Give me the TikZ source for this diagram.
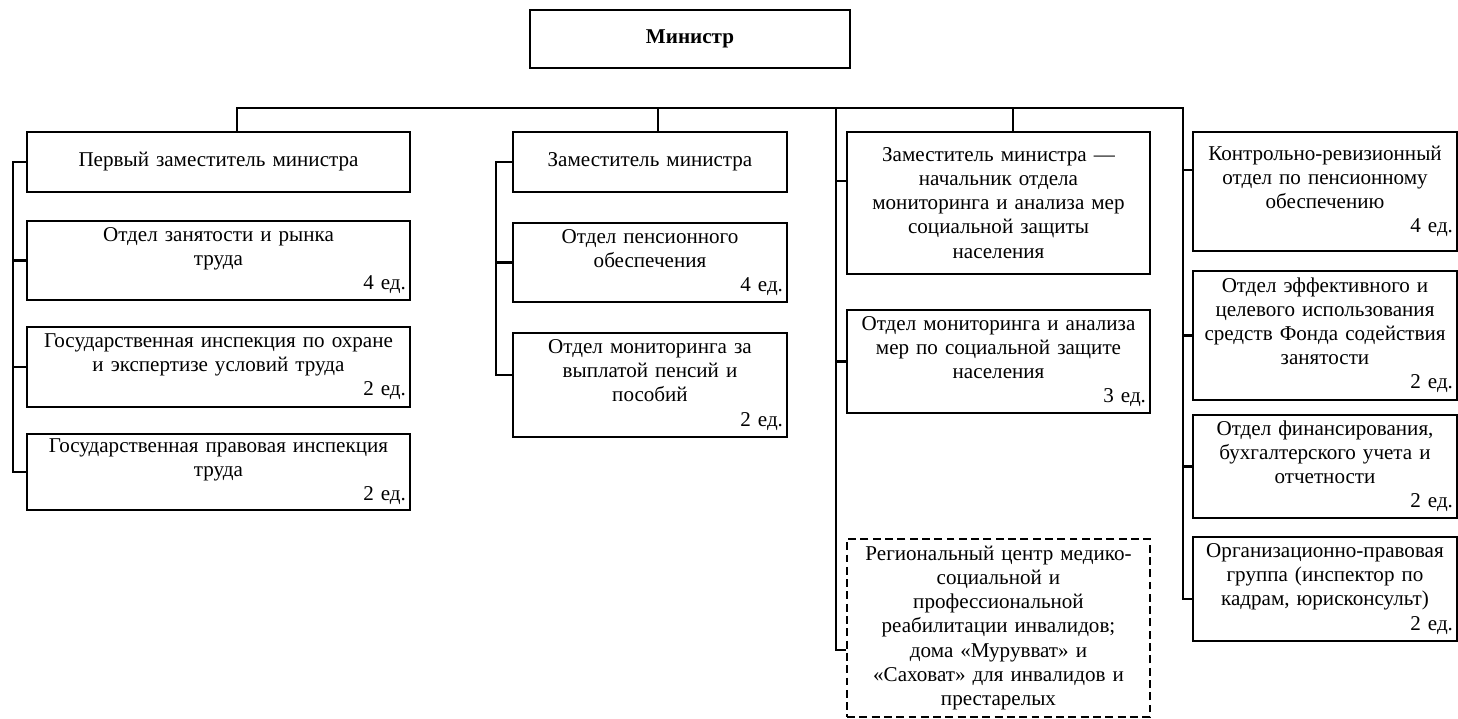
\documentclass[tikz,border=0pt]{standalone}
\usepackage{fontspec}
\setmainfont{Liberation Serif}
\newcommand{\boxfont}{\fontsize{12}{13.7}\selectfont}
\newcommand{\ed}[1]{\\\hspace*{\fill}#1~ед.}

\begin{document}
\begin{tikzpicture}[x=0.02cm, y=-0.02cm, font=\boxfont,
  box/.style={draw, rectangle, align=center, inner sep=0.08cm, line width=1.15pt},
  colA/.style={box, text width=7.5cm, minimum width=7.66cm},
  colB/.style={box, text width=5.32cm, minimum width=5.48cm},
  colC/.style={box, text width=5.9cm, minimum width=6.06cm},
  colD/.style={box, text width=5.12cm, minimum width=5.28cm},
  dashedbox/.style={line width=1.6pt, dash pattern=on 4.5pt off 2.5pt},
  link/.style={line width=1.15pt}]
\useasboundingbox (0,0) rectangle (1458,719);

\node[box, minimum width=6.4cm, minimum height=1.16cm, font=\boxfont\bfseries] (min) at (690,39) {Министр};

\node[colA, minimum height=1.2cm]  (p1) at (218.5,162) {Первый заместитель министра};
\node[colA, minimum height=1.58cm] (p2) at (218.5,260.5) {Отдел занятости и рынка\\труда\ed{4}};
\node[colA, minimum height=1.6cm]  (p3) at (218.5,367) {Государственная инспекция по охране\\и экспертизе условий труда\ed{2}};
\node[colA, minimum height=1.52cm] (p4) at (218.5,472) {Государственная правовая инспекция\\труда\ed{2}};

\node[colB, minimum height=1.2cm]  (z1) at (650,162) {Заместитель министра};
\node[colB, minimum height=1.58cm] (z2) at (650,262.5) {Отдел пенсионного\\обеспечения\ed{4}};
\node[colB, minimum height=2.08cm] (z3) at (650,385) {Отдел мониторинга за\\выплатой пенсий и\\пособий\ed{2}};

\node[colC, minimum height=2.84cm] (m1) at (998.5,203) {Заместитель министра —\\начальник отдела\\мониторинга и анализа мер\\социальной защиты\\населения};
\node[colC, minimum height=2.06cm] (m2) at (998.5,361.5) {Отдел мониторинга и анализа\\мер по социальной защите\\населения\ed{3}};
\node[colC, dashedbox, minimum height=3.56cm] (m3) at (998.5,628) {Региональный центр медико-\\социальной и\\профессиональной\\реабилитации инвалидов;\\дома «Мурувват» и\\«Саховат» для инвалидов и\\престарелых};

\node[colD, minimum height=2.38cm] (k1) at (1325,191.5) {Контрольно-ревизионный\\отдел по пенсионному\\обеспечению\ed{4}};
\node[colD, minimum height=2.58cm] (k2) at (1325,335.5) {Отдел эффективного и\\целевого использования\\средств Фонда содействия\\занятости\ed{2}};
\node[colD, minimum height=2.06cm] (k3) at (1325,466.5) {Отдел финансирования,\\бухгалтерского учета и\\отчетности\ed{2}};
\node[colD, minimum height=2.08cm] (k4) at (1325,589) {Организационно-правовая\\группа (инспектор по\\кадрам, юрисконсульт)\ed{2}};

\coordinate (bus) at (0,108);
\coordinate (sA) at (13,0);
\coordinate (sB) at (496,0);
\coordinate (sC) at (836,0);
\coordinate (sD) at (1183,0);
\coordinate (p1t) at ([xshift=0.37cm]p1.north);
\coordinate (z1t) at ([xshift=0.16cm]z1.north);
\coordinate (m1t) at ([xshift=0.29cm]m1.north);
\coordinate (z3b) at ([yshift=0.2cm]z3.west);
\coordinate (m1b) at ([yshift=0.44cm]m1.west);
\coordinate (m3b) at ([yshift=-0.44cm]m3.west);
\coordinate (k1b) at ([yshift=0.43cm]k1.west);
\coordinate (k4b) at ([yshift=-0.2cm]k4.west);

\draw[link] (p1t) |- (bus -| sD) -- (k4b -| sD) -- (k4b);
\draw[link] (z1t) -- (z1t |- bus);
\draw[link] (m1t) -- (m1t |- bus);
\draw[link] (bus -| sC) |- (m3b);

\draw[link] (p1.west) -| (p4.west -| sA) -- (p4.west);
\foreach \n in {p2,p3}
  \draw[link] (\n.west) -- (\n.west -| sA);
\draw[link] (z1.west) -| (z3b -| sB) -- (z3b);
\draw[link] (z2.west) -- (z2.west -| sB);
\draw[link] (m1b) -- (m1b -| sC);
\draw[link] (m2.west) -- (m2.west -| sC);
\draw[link] (k1b) -- (k1b -| sD);
\foreach \n in {k2,k3}
  \draw[link] (\n.west) -- (\n.west -| sD);
\end{tikzpicture}
\end{document}
